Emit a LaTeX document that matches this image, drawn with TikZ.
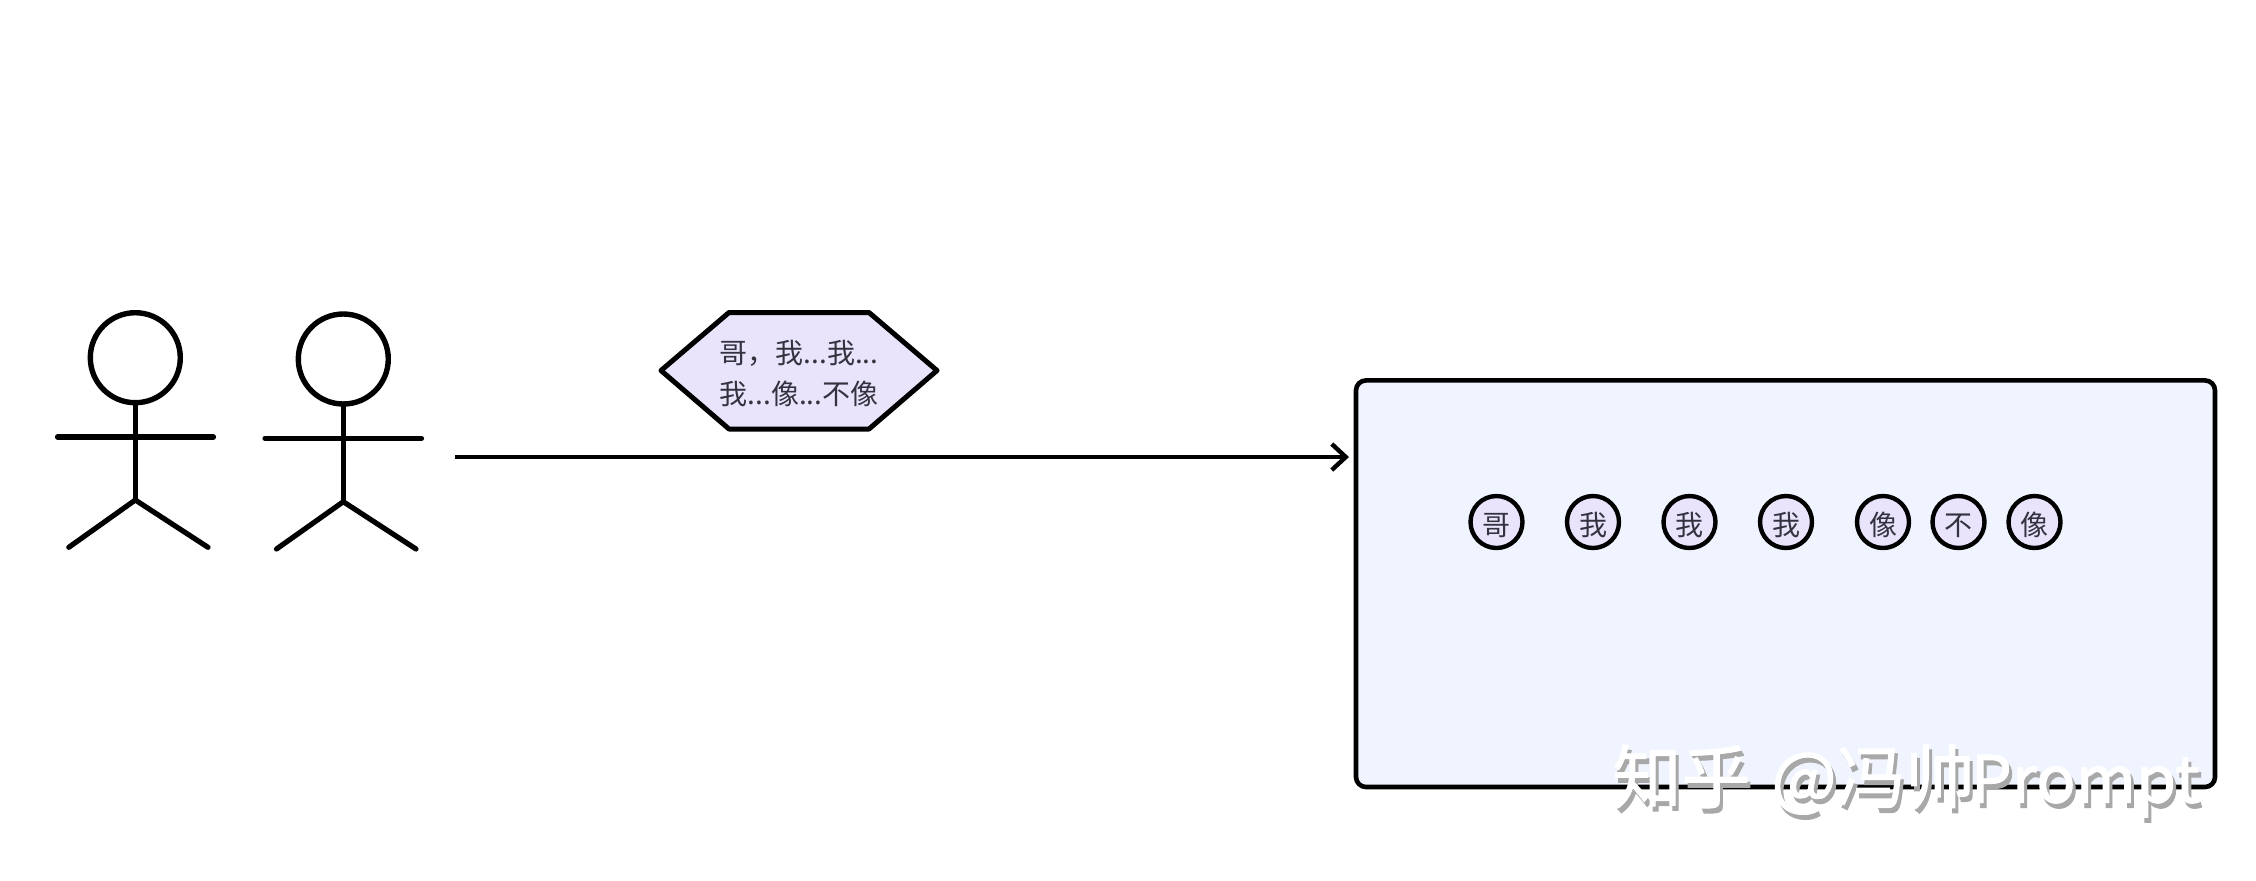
\documentclass[tikz,border=0pt]{standalone}
\usepackage{fontspec}
\setmainfont{Noto Sans CJK SC}
\newfontfamily\wmfont[FakeBold=1.4]{Noto Sans CJK SC}
\usetikzlibrary{arrows.meta}
\definecolor{lilac}{HTML}{E9E3FB}
\definecolor{boxblue}{HTML}{EFF4FE}
\definecolor{ink}{HTML}{333340}
\definecolor{wmgray}{HTML}{A8A8A8}
\newcommand{\tk}[1]{\raisebox{-1.3pt}[12.3pt][1.7pt]{#1}}
\newcommand{\wmtext}{知乎\hspace{10.5pt}@冯帅\hspace{-2pt}{\fontsize{32.5pt}{32.5pt}\selectfont Prompt}}
\tikzset{
  head/.style={circle,draw=black,line width=2.7pt,minimum size=45pt,inner sep=0pt,outer sep=0pt},
  limb/.style={draw=black,line width=2.6pt,line cap=round,line join=round},
  token/.style={circle,draw=black,line width=2.2pt,fill=lilac,minimum size=26pt,inner sep=0pt,outer sep=0pt,text=ink,font=\fontsize{14pt}{14pt}\selectfont},
  bubble/.style={inner sep=0pt,align=center,text=ink,font=\fontsize{14pt}{20.5pt}\selectfont},
  hexa/.style={draw=black,line width=2.5pt,fill=lilac,line join=round},
  panel/.style={draw=black,line width=2.3pt,fill=boxblue,rounded corners=5pt,minimum width=429.5pt,minimum height=203.3pt,inner sep=0pt,outer sep=0pt},
  flow/.style={draw=black,line width=2.2pt,-{Straight Barb[length=7pt,width=13pt,line width=2.2pt]}},
  mark1/.style={anchor=west,inner sep=0pt,font=\wmfont\fontsize{34.5pt}{34.5pt}\selectfont},
}
\begin{document}
\begin{tikzpicture}[x=0.5pt,y=-0.5pt]
\useasboundingbox (0,0) rectangle (2256,880);
\fill[white] (0,0) rectangle (2256,880);
% actors
\node[head] (h1) at (135.3,357.7) {};
\coordinate (hip1) at (135.3,500);
\coordinate (al1) at (57.5,437);
\coordinate (ar1) at (213.5,437);
\coordinate (ll1) at (68.8,547.3);
\coordinate (lr1) at (208,547.3);
\draw[limb] (h1.south) -- (hip1);
\draw[limb] (al1) -- (ar1);
\draw[limb] (ll1) -- (hip1) -- (lr1);
\node[head] (h2) at (343.3,359) {};
\coordinate (hip2) at (343.3,501.7);
\coordinate (al2) at (265,438.3);
\coordinate (ar2) at (421.5,438.3);
\coordinate (ll2) at (276.5,549);
\coordinate (lr2) at (416,549);
\draw[limb] (h2.south) -- (hip2);
\draw[limb] (al2) -- (ar2);
\draw[limb] (ll2) -- (hip2) -- (lr2);
% panel
\node[panel] (box) at (1785.5,583.7) {};
% hexagon
\draw[hexa] (661,370.5) -- (729,312.5) -- (869,312.5) -- (937,370.5) -- (869,429) -- (729,429) -- cycle;
\node[bubble] (say) at (799,374) {哥，我...我...\\我...像...不像};
% arrow
\coordinate (from) at (455,457);
\draw[flow,shorten >=3.5pt] (from) -- (box.west |- from);
% tokens
\node[token] (t1) at (1496.5,522) {\tk{哥}};
\node[token] (t2) at (1593,522) {\tk{我}};
\node[token] (t3) at (1689.5,522) {\tk{我}};
\node[token] (t4) at (1786,522) {\tk{我}};
\node[token] (t5) at (1883,522) {\tk{像}};
\node[token] (t6) at (1958.5,522) {\tk{不}};
\node[token] (t7) at (2034.5,522) {\tk{像}};
% watermark
\node[mark1,text=wmgray] (wm2) at (1615,786) {\wmtext};
\node[mark1,text=white] (wm1) at (1612,781) {\wmtext};
\end{tikzpicture}
\end{document}
